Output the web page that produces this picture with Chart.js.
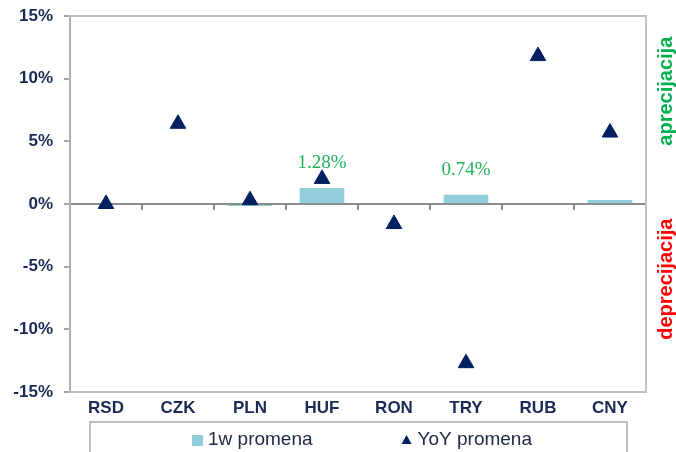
<!DOCTYPE html>
<html>
<head>
<meta charset="utf-8">
<script src="https://cdn.jsdelivr.net/npm/chart.js@4.4.1/dist/chart.umd.min.js"></script>
<style>
html, body { margin: 0; padding: 0; background: #fff; }
</style>
</head>
<body>
<canvas id="chart" width="676" height="452"></canvas>
<script>
var currencies = ['RSD', 'CZK', 'PLN', 'HUF', 'RON', 'TRY', 'RUB', 'CNY'];
var weekChange = [0, 0, -0.15, 1.28, 0, 0.74, 0, 0.32];
var yoyChange = [0.0, 6.4, 0.3, 2.0, -1.6, -12.7, 11.8, 5.7];
var barLabels = [null, null, null, '1.28%', null, '0.74%', null, null];
var yTicks = [-15, -10, -5, 0, 5, 10, 15];
var sideUp = 'aprecijacija';
var sideDown = 'deprecijacija';

var navy = '#1b2a55';
var sans = '"Liberation Sans", Arial, sans-serif';

// plot frame (top, right, bottom)
var frame = {
	id: 'frame',
	beforeDatasetsDraw: function(chart){
		var a = chart.chartArea, ctx = chart.ctx;
		ctx.save();
		ctx.strokeStyle = '#c0c0c0';
		ctx.lineWidth = 2;
		ctx.beginPath();
		ctx.moveTo(a.left, a.top);
		ctx.lineTo(a.right, a.top);
		ctx.lineTo(a.right, a.bottom);
		ctx.lineTo(a.left, a.bottom);
		ctx.stroke();
		ctx.restore();
	}
};

// value labels above bars
var valueLabels = {
	id: 'valueLabels',
	afterDatasetsDraw: function(chart){
		var ctx = chart.ctx;
		var meta = chart.getDatasetMeta(0);
		ctx.save();
		ctx.font = '19px "Liberation Serif", "Times New Roman", serif';
		ctx.fillStyle = '#1fb35a';
		ctx.textAlign = 'center';
		ctx.textBaseline = 'middle';
		meta.data.forEach(function(bar, i){
			if (!barLabels[i]) return;
			ctx.fillText(barLabels[i], bar.x, bar.y - 25);
		});
		ctx.restore();
	}
};

// side captions + boxed legend
var extras = {
	id: 'extras',
	afterDraw: function(chart){
		var ctx = chart.ctx, a = chart.chartArea, y = chart.scales.y;
		ctx.save();
		ctx.font = 'bold 20px ' + sans;
		ctx.textAlign = 'center';
		ctx.textBaseline = 'middle';
		ctx.translate(a.right + 20, y.getPixelForValue(9));
		ctx.rotate(-Math.PI / 2);
		ctx.fillStyle = '#00b050';
		ctx.fillText(sideUp, 0, 0);
		ctx.restore();

		ctx.save();
		ctx.font = 'bold 20px ' + sans;
		ctx.textAlign = 'center';
		ctx.textBaseline = 'middle';
		ctx.translate(a.right + 20, y.getPixelForValue(-6));
		ctx.rotate(-Math.PI / 2);
		ctx.fillStyle = '#ff0000';
		ctx.fillText(sideDown, 0, 0);
		ctx.restore();

		var ds = chart.data.datasets;
		var top = a.bottom + 30;
		ctx.save();
		ctx.strokeStyle = '#c0c0c0';
		ctx.lineWidth = 2;
		ctx.strokeRect(a.left + 20, top, a.right - a.left - 39, 60);
		ctx.font = '19px ' + sans;
		ctx.textBaseline = 'middle';
		ctx.textAlign = 'left';
		var w1 = ctx.measureText(ds[0].label).width;
		var w2 = ctx.measureText(ds[1].label).width;
		var total = 11 + 5 + w1 + 89 + 10 + 6 + w2;
		var x = (a.left + a.right) / 2 - total / 2 + 4;
		var cy = top + 18;
		ctx.fillStyle = ds[0].backgroundColor;
		ctx.fillRect(x, cy - 5, 11, 11);
		ctx.fillStyle = '#222b45';
		ctx.fillText(ds[0].label, x + 16, cy);
		x += 16 + w1 + 89;
		ctx.fillStyle = ds[1].backgroundColor;
		ctx.beginPath();
		ctx.moveTo(x + 5, cy - 5);
		ctx.lineTo(x + 10, cy + 4);
		ctx.lineTo(x, cy + 4);
		ctx.closePath();
		ctx.fill();
		ctx.fillStyle = '#222b45';
		ctx.fillText(ds[1].label, x + 16, cy);
		ctx.restore();
	}
};

new Chart(document.getElementById('chart'), {
	type: 'bar',
	data: {
		labels: currencies,
		datasets: [{
			label: '1w promena',
			data: weekChange,
			backgroundColor: '#92cddc',
			categoryPercentage: 1,
			barPercentage: 0.62,
			order: 2
		}, {
			type: 'line',
			label: 'YoY promena',
			data: yoyChange,
			showLine: false,
			pointStyle: 'triangle',
			pointRadius: 9,
			pointHoverRadius: 9,
			backgroundColor: '#002060',
			borderColor: '#002060',
			borderWidth: 1,
			order: 1
		}]
	},
	options: {
		responsive: false,
		animation: false,
		layout: { padding: { left: 0, right: 30, top: 16, bottom: 30 } },
		plugins: {
			legend: { display: false },
			tooltip: { enabled: false }
		},
		scales: {
			x: {
				type: 'category',
				position: { y: 0 },
				offset: true,
				grid: { display: true, offset: true, drawOnChartArea: false, drawTicks: true, tickLength: 5, color: '#8c8c8c', lineWidth: 2 },
				border: { display: true, color: '#8c8c8c', width: 2 },
				ticks: { display: false }
			},
			x2: {
				type: 'category',
				labels: currencies,
				position: 'bottom',
				offset: true,
				grid: { display: false, drawTicks: false },
				border: { display: false },
				ticks: { padding: 6, color: navy, font: { family: sans, size: 17, weight: 'bold' } },
				afterFit: function(scale){ scale.height = 30; }
			},
			y: {
				min: -15,
				max: 15,
				afterBuildTicks: function(scale){
					scale.ticks = yTicks.map(function(v){ return { value: v }; });
				},
				grid: { drawOnChartArea: false, tickLength: 6, color: '#a6a6a6', lineWidth: 2 },
				border: { color: '#b0b0b0', width: 2 },
				ticks: {
					padding: 11,
					color: navy,
					font: { family: sans, size: 17, weight: 'bold' },
					callback: function(v){ return v + '%'; }
				},
				afterFit: function(scale){
					scale.width = 70;
					scale.paddingTop = 0;
					scale.paddingBottom = 0;
				}
			}
		}
	},
	plugins: [frame, valueLabels, extras]
});
</script>
</body>
</html>
